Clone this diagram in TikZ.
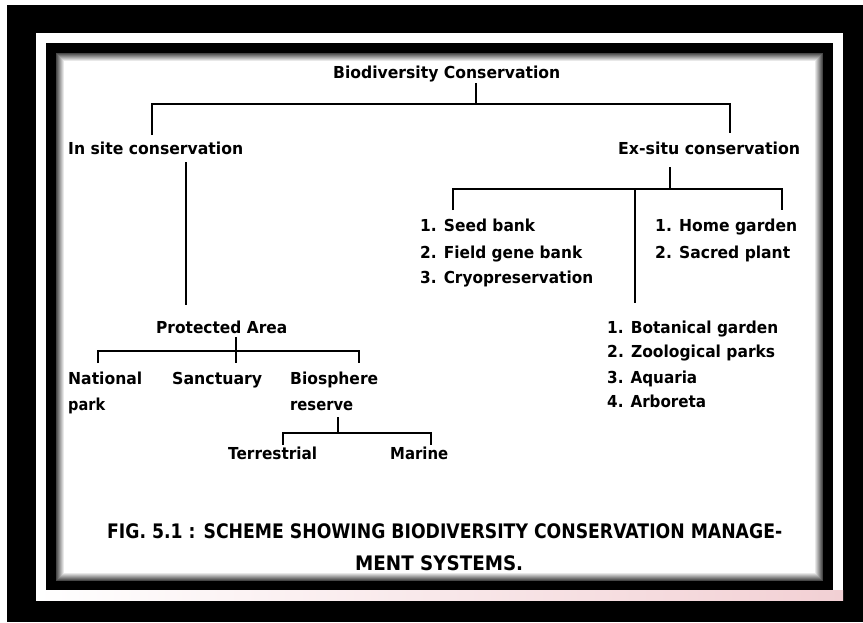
\documentclass[tikz,border=0pt]{standalone}
\usepackage{fontspec}
\setmainfont{DejaVu Sans}
\usepackage{graphicx}
\newcommand\tw[2]{\resizebox{#1pt}{\height}{#2}}
\tikzset{
  txt/.style={inner sep=0pt, anchor=base west, font=\fontsize{16.5}{19}\selectfont\bfseries},
  captxt/.style={inner sep=0pt, anchor=base west, font=\fontsize{20}{23}\selectfont\bfseries},
  conn/.style={line width=2.2pt, black},
}
\begin{document}
\begin{tikzpicture}[x=1pt,y=-1pt]
\useasboundingbox (0,0) rectangle (863,622);
% background and frame
\fill[black] (0,0) rectangle (863,622);
\fill[white] (0,0) rectangle (863,5);
\fill[white] (0,0) rectangle (7,622);
\fill[white] (36,33) rectangle (843,600);
\shade[left color=white, right color={rgb,255:red,242;green,208;blue,212}] (36,590) rectangle (843,600);
\fill[black] (46,43) rectangle (833,590);
\fill[white] (56,53) rectangle (823,581);
\foreach \i in {0,...,8}{
  \pgfmathsetmacro\c{max(0,72-\i*9)}
  \draw[black!\c!white, line width=1pt] (56.5+\i,53.5+\i) rectangle (822.5-\i,580.5-\i);
}
% texts
\node[txt] (bio) at (333,78) {\tw{227}{Biodiversity Conservation}};
\node[txt] (insitu) at (68,154) {\tw{175}{In site conservation}};
\node[txt] (exsitu) at (618,154) {\tw{182}{Ex-situ conservation}};
\node[txt] (seed) at (420,231) {\tw{115}{1. Seed bank}};
\node[txt] (field) at (420,258) {\tw{162}{2. Field gene bank}};
\node[txt] (cryo) at (420,283) {\tw{173}{3. Cryopreservation}};
\node[txt] (home) at (655,231) {\tw{142}{1. Home garden}};
\node[txt] (sacred) at (655,258) {\tw{135}{2. Sacred plant}};
\node[txt] (bot) at (607,333) {\tw{171}{1. Botanical garden}};
\node[txt] (zoo) at (607,357) {\tw{168}{2. Zoological parks}};
\node[txt] (aqua) at (607,383) {\tw{90}{3. Aquaria}};
\node[txt] (arbo) at (607,407) {\tw{99}{4. Arboreta}};
\node[txt] (prot) at (156,333) {\tw{131}{Protected Area}};
\node[txt] (natl) at (68,384) {\tw{74}{National}};
\node[txt] (natp) at (68,410) {\tw{37}{park}};
\node[txt] (sanc) at (172,384) {\tw{90}{Sanctuary}};
\node[txt] (bios) at (290,384) {\tw{88}{Biosphere}};
\node[txt] (resv) at (290,410) {\tw{63}{reserve}};
\node[txt] (terr) at (228,459) {\tw{89}{Terrestrial}};
\node[txt] (mar) at (390,459) {\tw{58}{Marine}};
\node[captxt] (cap1) at (107,538) {\tw{675}{FIG. 5.1 : SCHEME SHOWING BIODIVERSITY CONSERVATION MANAGE-}};
\node[captxt] (cap2) at (355,570) {\tw{168}{MENT SYSTEMS.}};
% junction coordinates
\coordinate (b0) at (476,83);
\coordinate (b1) at (476,104);
\coordinate (bl) at (152,104);
\coordinate (br) at (730,104);
\coordinate (bl2) at (152,135);
\coordinate (br2) at (730,133);
\coordinate (i0) at (186,162);
\coordinate (i1) at (186,305);
\coordinate (e0) at (670,167);
\coordinate (e1) at (670,189);
\coordinate (el) at (453,189);
\coordinate (er) at (782,189);
\coordinate (em) at (635,189);
\coordinate (el2) at (453,210);
\coordinate (er2) at (782,210);
\coordinate (em2) at (635,303);
\coordinate (p0) at (236,337);
\coordinate (p1) at (236,363);
\coordinate (pl) at (98,351);
\coordinate (pr) at (359,351);
\coordinate (pl2) at (98,363);
\coordinate (pr2) at (359,363);
\coordinate (r0) at (338,417);
\coordinate (r1) at (338,433);
\coordinate (rl) at (283,433);
\coordinate (rr) at (431,433);
\coordinate (rl2) at (283,445);
\coordinate (rr2) at (431,445);
% connectors
\draw[conn] (b0) -- (b1);
\draw[conn] (bl2) -- (bl) -- (br) -- (br2);
\draw[conn] (i0) -- (i1);
\draw[conn] (e0) -- (e1);
\draw[conn] (el2) -- (el) -- (er) -- (er2);
\draw[conn] (em) -- (em2);
\draw[conn] (p0) -- (p1);
\draw[conn] (pl2) -- (pl) -- (pr) -- (pr2);
\draw[conn] (r0) -- (r1);
\draw[conn] (rl2) -- (rl) -- (rr) -- (rr2);
\end{tikzpicture}
\end{document}
